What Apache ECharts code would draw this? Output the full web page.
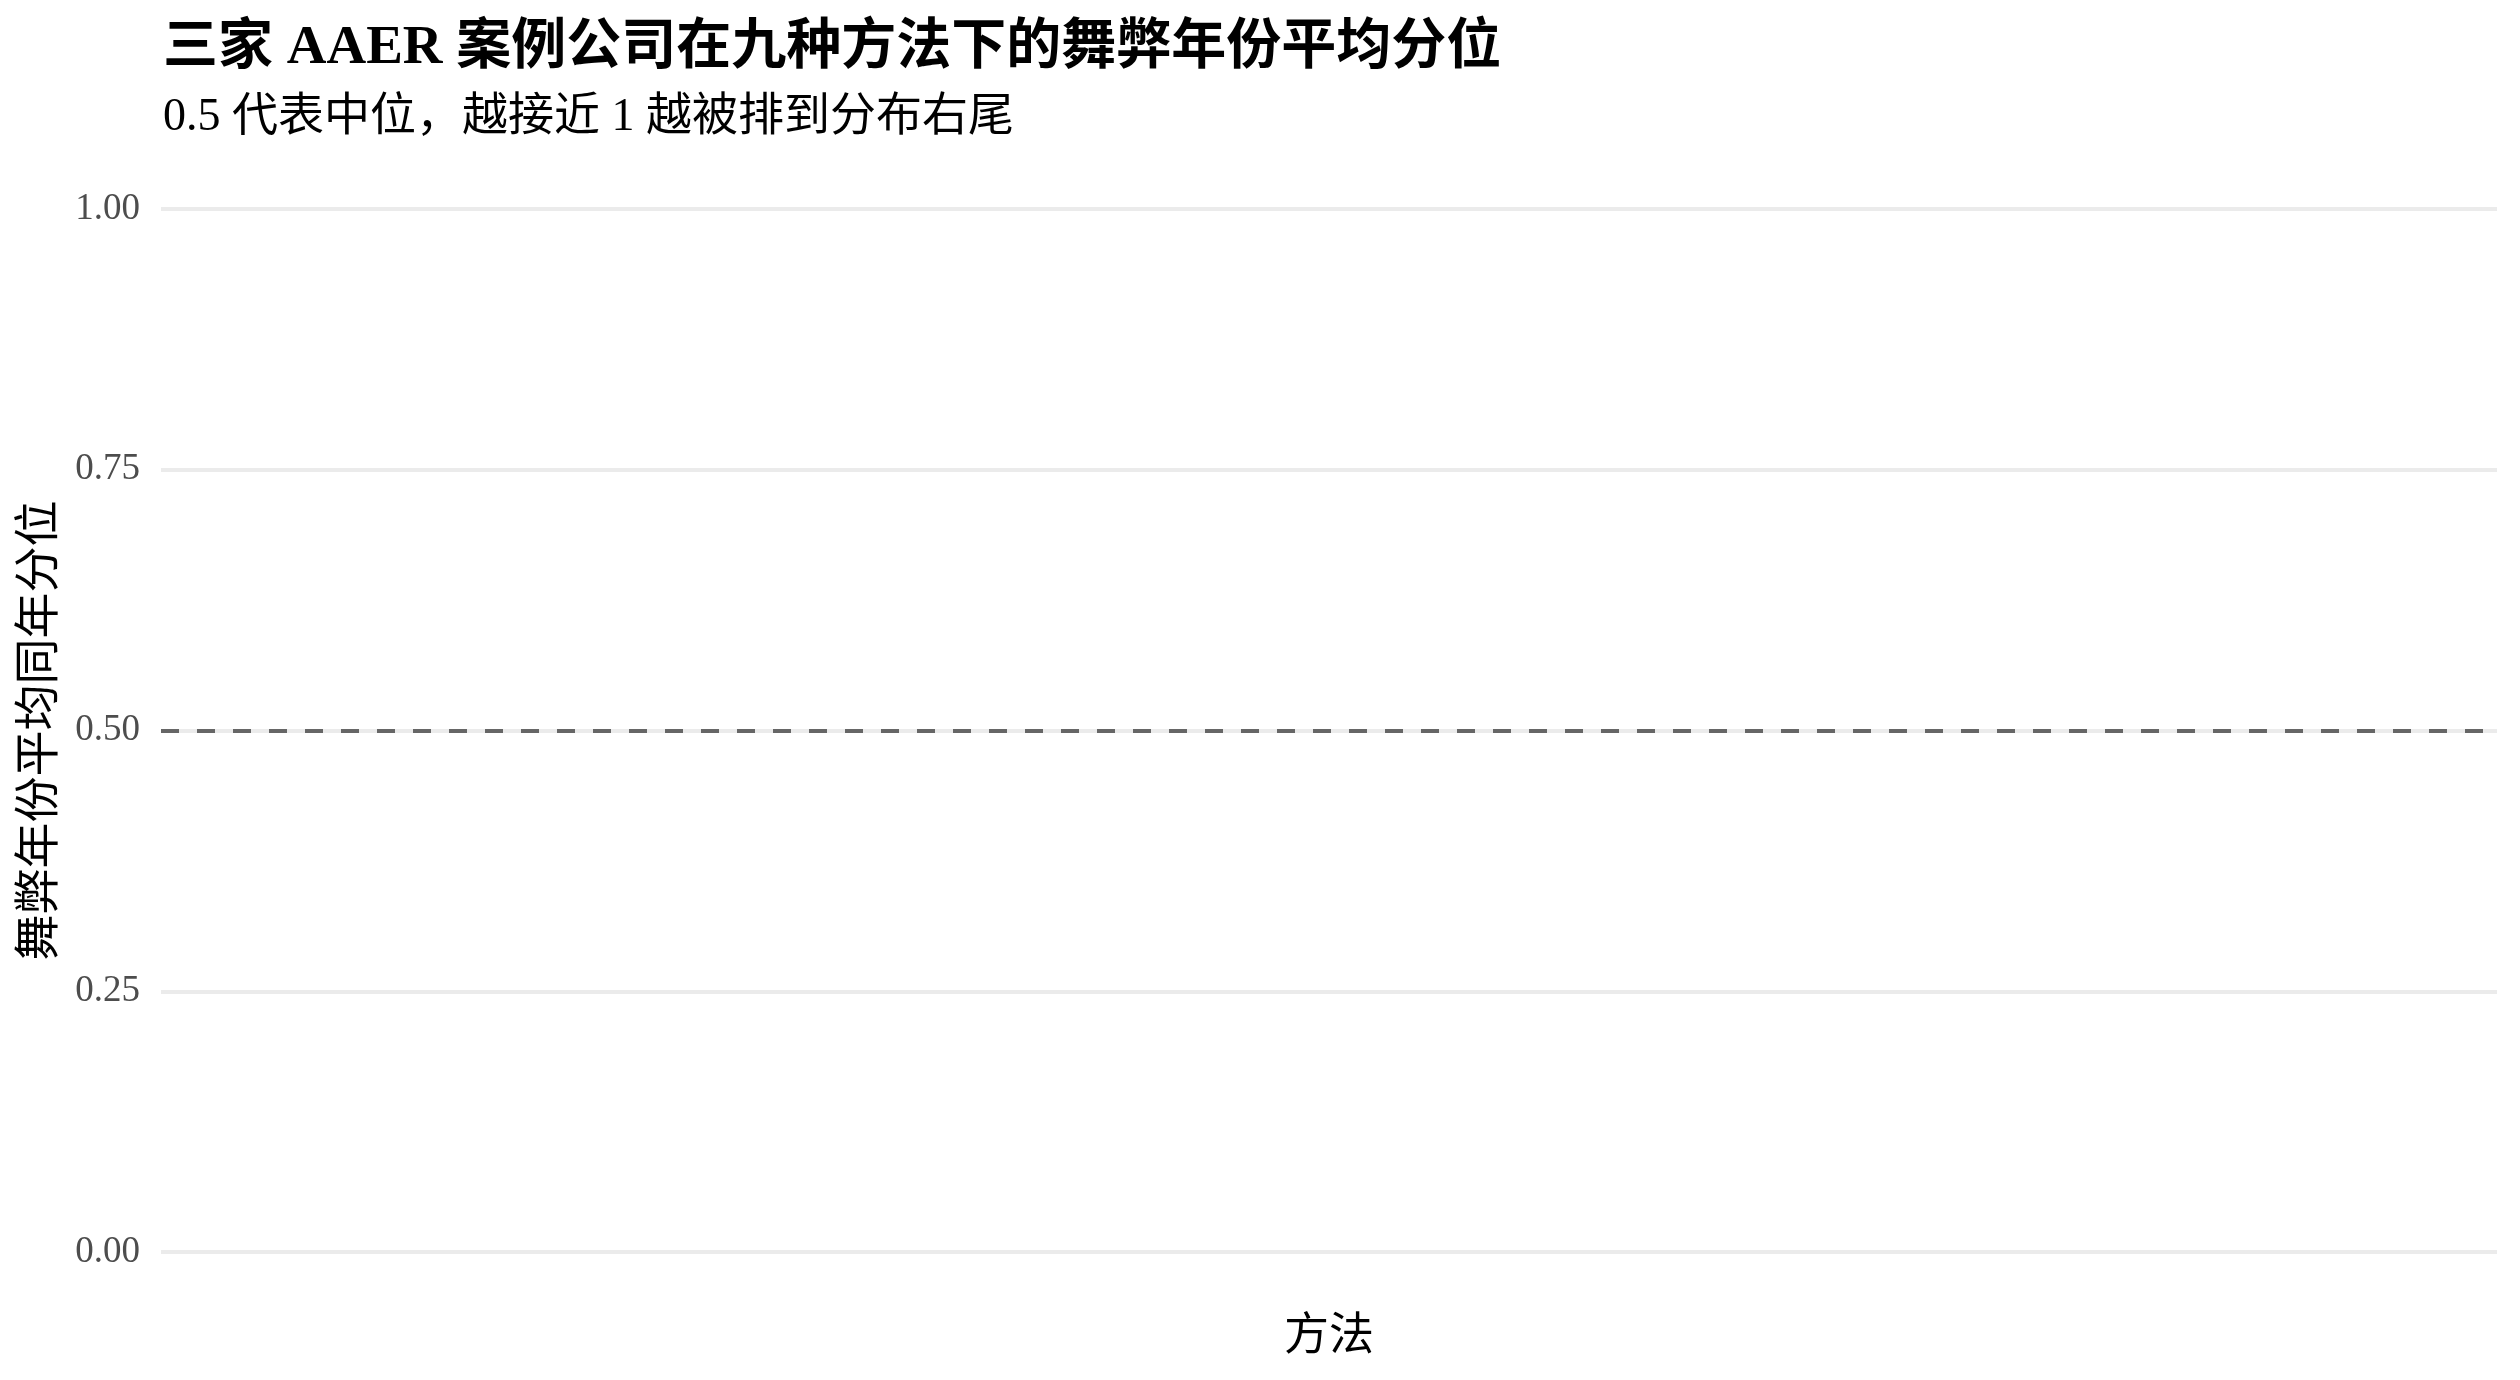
<!DOCTYPE html>
<html>
<head>
<meta charset="utf-8">
<title>舞弊年份平均分位</title>
<script src="https://cdn.jsdelivr.net/npm/echarts@6/dist/echarts.min.js"></script>
<style>
  html, body { margin: 0; padding: 0; background: #fff; }
  #main { width: 2520px; height: 1380px; }
</style>
</head>
<body>
<div id="main"></div>
<script>
var FONT = "'Liberation Serif', 'Noto Sans CJK SC', serif";

// 方法（图中没有画出任何方法）
var methods = [];
// 平均分位（图中为空）
var quantiles = [];
// y 轴刻度
var yTicks = [0, 0.25, 0.5, 0.75, 1];
// 参考线：中位
var refLine = 0.5;

var myChart = echarts.init(document.getElementById('main'));

var option = {
    backgroundColor: '#ffffff',
    animation: false,
    title: {
        text: '三家 AAER 案例公司在九种方法下的舞弊年份平均分位',
        subtext: '0.5 代表中位，越接近 1 越被排到分布右尾',
        left: 158,
        top: 12,
        itemGap: 10,
        textStyle: {
            fontFamily: FONT,
            fontSize: 55,
            fontWeight: 'bold',
            color: '#000',
            lineHeight: 64
        },
        subtextStyle: {
            fontFamily: FONT,
            fontSize: 46,
            color: '#000',
            lineHeight: 54
        }
    },
    grid: {
        left: 161,
        right: 23,
        top: 209,
        bottom: 128,
        containLabel: false
    },
    xAxis: {
        type: 'category',
        data: methods,
        name: '方法',
        nameLocation: 'middle',
        nameGap: 64,
        nameTextStyle: { fontFamily: FONT, fontSize: 45, color: '#000' },
        axisLine: { show: false },
        axisTick: { show: false },
        axisLabel: { show: false },
        splitLine: { show: false }
    },
    yAxis: {
        type: 'value',
        min: yTicks[0],
        max: yTicks[yTicks.length - 1],
        interval: yTicks[1] - yTicks[0],
        name: '舞弊年份平均同年分位',
        nameLocation: 'middle',
        nameGap: 93,
        nameRotate: 90,
        nameTextStyle: { fontFamily: FONT, fontSize: 46, color: '#000' },
        axisLine: { show: false },
        axisTick: { show: false },
        axisLabel: {
            fontFamily: FONT,
            fontSize: 37,
            color: '#4d4d4d',
            margin: 21,
            formatter: function (v) { return v.toFixed(2); }
        },
        splitLine: { lineStyle: { color: '#ebebeb', width: 4 } }
    },
    series: [{
        name: '平均分位',
        type: 'bar',
        data: quantiles,
        markLine: {
            silent: true,
            symbol: 'none',
            label: { show: false },
            lineStyle: { color: '#666666', width: 4, type: [18, 18] },
            data: [{ yAxis: refLine }]
        }
    }]
};

myChart.setOption(option);
</script>
</body>
</html>
